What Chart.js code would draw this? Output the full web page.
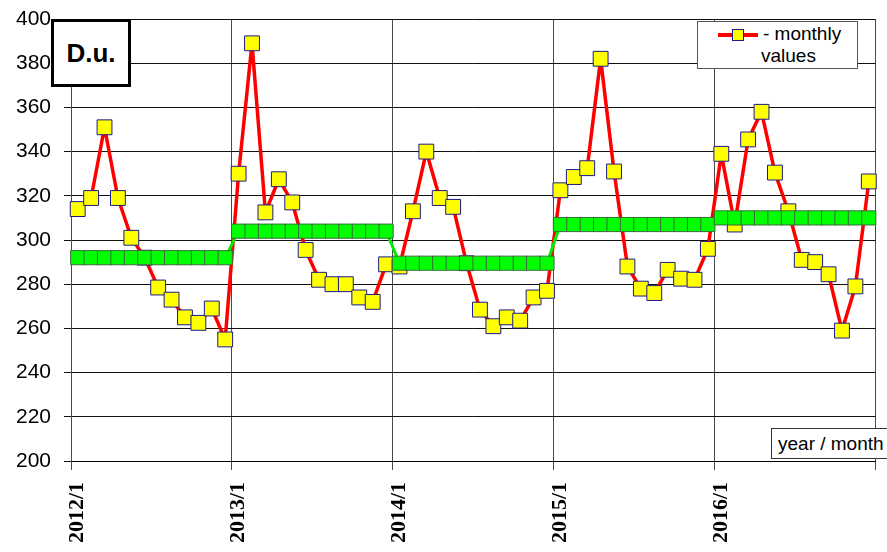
<!DOCTYPE html>
<html>
<head>
<meta charset="utf-8">
<script src="https://cdn.jsdelivr.net/npm/chart.js@4/dist/chart.umd.min.js"></script>
<style>
  body { margin: 0; background: #fff; }
  #wrap { position: relative; width: 887px; height: 552px; overflow: hidden; }
  .box { position: absolute; background: #fff; font-family: "Liberation Sans", Arial, sans-serif; color: #000; }
  #unit { left: 51px; top: 19px; width: 74px; height: 62px; border: 3px solid #000;
          font-size: 26px; font-weight: bold; text-align: center; line-height: 62px; }
  #legend { left: 697px; top: 21px; width: 159px; height: 46px; border: 1px solid #555; font-size: 19px; line-height: 22px; }
  #legend .sym { position: absolute; left: 20px; top: 11px; width: 40px; height: 4px; background: #f00; }
  #legend .sq { position: absolute; left: 34px; top: 7px; width: 10px; height: 10px; background: #ff0; border: 1px solid #1a1a8c; }
  #legend .t1 { position: absolute; left: 65px; top: 1px; }
  #legend .t2 { position: absolute; left: 63px; top: 23px; }
  #xunit { left: 771px; top: 428px; width: 130px; height: 29px; border: 1px solid #333; font-size: 19px; line-height: 29px; padding-left: 6px; }
</style>
</head>
<body>
<div id="wrap">
  <canvas id="myChart" width="887" height="552"></canvas>
  <div class="box" id="unit">D.u.</div>
  <div class="box" id="legend"><div class="sym"></div><div class="sq"></div><span class="t1">- monthly</span><span class="t2">values</span></div>
  <div class="box" id="xunit">year / month</div>
</div>
<script>
var years = ['2012', '2013', '2014', '2015', '2016'];

var values2012 = [314, 319, 351, 319, 301, 292, 278.5, 273, 265, 262.5, 269, 255];
var values2013 = [330, 389, 312.5, 327.5, 317, 295.5, 282, 280, 280, 274, 272, 289];
var values2014 = [288, 313, 340, 319, 315, 289.5, 268.5, 261, 265, 263.5, 274, 277];
var values2015 = [322.5, 328.5, 332.5, 382, 331, 288, 278, 276, 286.5, 282.5, 282, 296];
var values2016 = [339, 307, 345.5, 358, 330.5, 313, 291, 290, 284.5, 259, 279, 326.5];

// yearly mean
var annualMean = [292, 304, 289.5, 307, 310];

var yTicks = [200, 220, 240, 260, 280, 300, 320, 340, 360, 380, 400];

var labels = [];
var meanLine = [];
years.forEach(function (y, i) {
  for (var m = 1; m <= 12; m++) {
    labels.push(y + '/' + m);
    meanLine.push(annualMean[i]);
  }
});
var monthly = values2012.concat(values2013, values2014, values2015, values2016);

var ctx = document.getElementById('myChart').getContext('2d');

var myChart = new Chart(ctx, {
  type: 'line',
  data: {
    labels: labels,
    datasets: [
      {
        label: '- monthly values',
        data: monthly,
        borderColor: '#ff0000',
        borderWidth: 3.5,
        borderJoinStyle: 'round',
        pointStyle: 'rect',
        pointRadius: 10.5,
        pointBackgroundColor: '#ffff00',
        pointBorderColor: '#1a1a8c',
        pointBorderWidth: 1,
        order: 2
      },
      {
        label: 'annual mean',
        data: meanLine,
        borderColor: '#00ee00',
        borderWidth: 3,
        borderJoinStyle: 'round',
        pointStyle: 'rect',
        pointRadius: 10,
        pointBackgroundColor: '#00ff00',
        pointBorderColor: '#3b6b3b',
        pointBorderWidth: 1,
        order: 1
      }
    ]
  },
  options: {
    responsive: false,
    animation: false,
    layout: { padding: { top: 19, right: 7, left: 0, bottom: 0 } },
    plugins: { legend: { display: false }, tooltip: { enabled: false } },
    scales: {
      x: {
        type: 'category',
        offset: true,
        afterFit: function (s) { s.height = 91; s.paddingLeft = 0; s.paddingRight = 0; },
        grid: {
          offset: true,
          tickLength: 9,
          lineWidth: 1,
          color: function (c) {
            return (c.index === undefined || c.index % 12 === 0) ? '#4a4a4a' : 'rgba(0,0,0,0)';
          }
        },
        border: { color: '#000' },
        ticks: {
          autoSkip: false,
          maxRotation: 90,
          minRotation: 90,
          padding: 12,
          color: '#000',
          font: { family: 'Liberation Serif', size: 22, weight: 'bold' },
          callback: function (v, i) { return i % 12 === 0 ? labels[i] : ''; }
        }
      },
      y: {
        min: 200,
        max: 400,
        afterFit: function (s) { s.width = 71; s.paddingTop = 0; s.paddingBottom = 0; },
        afterBuildTicks: function (s) { s.ticks = yTicks.map(function (v) { return { value: v }; }); },
        grid: { color: '#111', tickLength: 7, lineWidth: 1 },
        border: { color: '#4a4a4a' },
        ticks: {
          padding: 13,
          color: '#000',
          font: { family: 'Liberation Sans', size: 21 }
        }
      }
    }
  }
});
</script>
</body>
</html>
